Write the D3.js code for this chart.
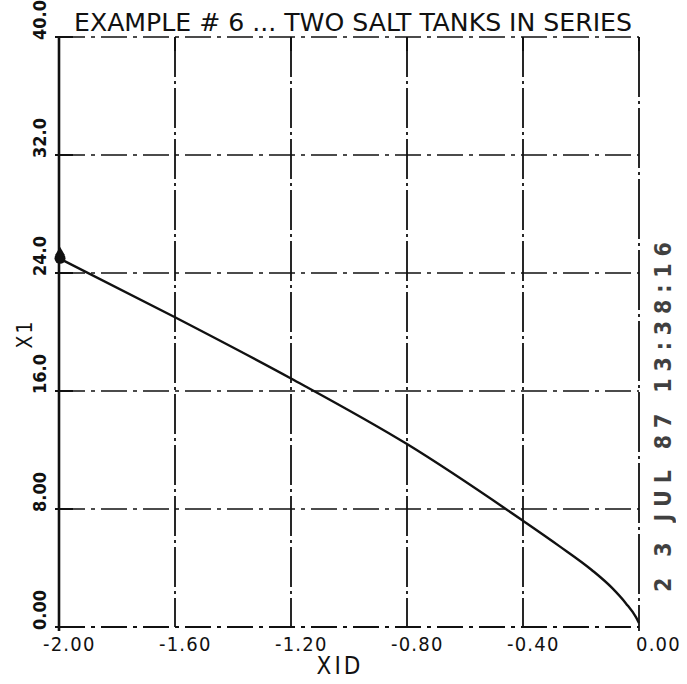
<!DOCTYPE html>
<html>
<head>
<meta charset="utf-8">
<script src="https://cdn.jsdelivr.net/npm/d3@7"></script>
<style>
  body { margin: 0; background: #fff; }
  svg { display: block; }
  text { font-family: "DejaVu Sans Condensed", "Liberation Sans Narrow", "DejaVu Sans", sans-serif; fill: #111; }
</style>
</head>
<body>
<div id="chart"></div>
<script>
// X1D (horizontal) and X1 (vertical)
const x1d = [-2.0, -1.6, -1.2, -0.8, -0.4, -0.276, -0.162, -0.093, -0.045, -0.01, 0.0];
const x1 = [25.0, 21.0, 16.85, 12.4, 7.2, 5.5, 3.85, 2.65, 1.6, 0.65, 0.27];

const xTicks = [-2.0, -1.6, -1.2, -0.8, -0.4, 0.0];
const xTickLabels = ["-2.00", "-1.60", "-1.20", "-0.80", "-0.40", "0.00"];
const yTicks = [0, 8, 16, 24, 32, 40];
const yTickLabels = ["0.00", "8.00", "16.0", "24.0", "32.0", "40.0"];

const title = "EXAMPLE # 6 ... TWO SALT TANKS IN SERIES";
const stamp = "2 3 JUL 87   13:38:16";

const W = 687, H = 684;
const margin = { top: 37, right: 48, bottom: 57, left: 59 };

const svg = d3.select("#chart").append("svg")
  .attr("width", W)
  .attr("height", H);

svg.append("rect").attr("width", W).attr("height", H).attr("fill", "#fff");

const xScale = d3.scaleLinear().domain([-2, 0]).range([margin.left, W - margin.right]);
const yScale = d3.scaleLinear().domain([0, 40]).range([H - margin.bottom, margin.top]);

// grid lines (dash-dot, plotter style)
svg.append("g")
  .selectAll("line")
  .data(yTicks.filter(d => d > 0 && d < 40))
  .enter().append("line")
  .attr("x1", xScale(-2)).attr("x2", xScale(0))
  .attr("y1", d => yScale(d)).attr("y2", d => yScale(d))
  .attr("stroke", "#111").attr("stroke-width", 1.6)
  .attr("stroke-dasharray", "26,6,4,6");

svg.append("g")
  .selectAll("line")
  .data(xTicks.filter(d => d > -2 && d < 0))
  .enter().append("line")
  .attr("x1", d => xScale(d)).attr("x2", d => xScale(d))
  .attr("y1", yScale(40)).attr("y2", yScale(0))
  .attr("stroke", "#111").attr("stroke-width", 1.8)
  .attr("stroke-dasharray", "40,4,3,4");

// frame
svg.append("line")
  .attr("x1", xScale(-2)).attr("x2", xScale(0))
  .attr("y1", yScale(40)).attr("y2", yScale(40))
  .attr("stroke", "#111").attr("stroke-width", 1.6)
  .attr("stroke-dasharray", "26,6,4,6");
svg.append("line")
  .attr("x1", xScale(-2)).attr("x2", xScale(0))
  .attr("y1", yScale(0)).attr("y2", yScale(0))
  .attr("stroke", "#111").attr("stroke-width", 1.8)
  .attr("stroke-dasharray", "26,6,4,6");
svg.append("line")
  .attr("x1", xScale(-2)).attr("x2", xScale(-2))
  .attr("y1", yScale(40)).attr("y2", yScale(0) + 4)
  .attr("stroke", "#111").attr("stroke-width", 2.6);
svg.append("line")
  .attr("x1", xScale(0)).attr("x2", xScale(0))
  .attr("y1", yScale(40)).attr("y2", yScale(0) + 4)
  .attr("stroke", "#111").attr("stroke-width", 1.8)
  .attr("stroke-dasharray", "60,4,3,4");

// tick marks on the frame
svg.append("g")
  .selectAll("line")
  .data(xTicks)
  .enter().append("line")
  .attr("x1", d => xScale(d)).attr("x2", d => xScale(d))
  .attr("y1", yScale(40)).attr("y2", yScale(40) + 14)
  .attr("stroke", "#111").attr("stroke-width", 2);
svg.append("g")
  .selectAll("line")
  .data(yTicks)
  .enter().append("line")
  .attr("x1", xScale(-2) - 4).attr("x2", xScale(-2) + 14)
  .attr("y1", d => yScale(d)).attr("y2", d => yScale(d))
  .attr("stroke", "#111").attr("stroke-width", 2);

// x tick labels
svg.append("g")
  .selectAll("text")
  .data(xTicks)
  .enter().append("text")
  .attr("x", (d, i) => xScale(d) - (xTickLabels[i][0] === "-" ? 16 : 3))
  .attr("y", yScale(0) + 24)
  .attr("font-size", 20)
  .attr("letter-spacing", 1.2)
  .text((d, i) => xTickLabels[i]);

// y tick labels (rotated)
svg.append("g")
  .selectAll("text")
  .data(yTicks)
  .enter().append("text")
  .attr("transform", d => `translate(46,${yScale(d) + 3}) rotate(-90)`)
  .attr("font-size", 18)
  .attr("font-weight", "bold")
  .text((d, i) => yTickLabels[i]);

// axis titles
svg.append("text")
  .attr("x", 340)
  .attr("y", 674)
  .attr("text-anchor", "middle")
  .attr("font-size", 24)
  .attr("letter-spacing", 3)
  .text("XID");

svg.append("text")
  .attr("transform", "translate(32,334) rotate(-90)")
  .attr("text-anchor", "middle")
  .attr("font-size", 21)
  .attr("letter-spacing", 2)
  .text("X1");

// chart title
svg.append("text")
  .attr("x", 74)
  .attr("y", 31)
  .attr("font-size", 25)
  .attr("textLength", 558)
  .attr("lengthAdjust", "spacingAndGlyphs")
  .text(title);

// date stamp on the right edge
svg.append("text")
  .attr("transform", "translate(671,592) rotate(-90)")
  .attr("font-size", 23)
  .attr("font-weight", "bold")
  .attr("textLength", 350)
  .attr("lengthAdjust", "spacing")
  .attr("opacity", 0.8)
  .text(stamp);

// the trajectory
const points = x1d.map((d, i) => ({ x: d, y: x1[i] }));
const line = d3.line()
  .x(d => xScale(d.x))
  .y(d => yScale(d.y))
  .curve(d3.curveMonotoneX);

svg.append("path")
  .datum(points)
  .attr("d", line)
  .attr("fill", "none")
  .attr("stroke", "#111")
  .attr("stroke-width", 2.4);

// start marker
const start = points[0];
svg.append("path")
  .attr("transform", `translate(${xScale(start.x) + 1},${yScale(start.y) - 6})`)
  .attr("d", d3.symbol(d3.symbolTriangle, 40)())
  .attr("fill", "#111");
svg.append("circle")
  .attr("cx", xScale(start.x) + 1)
  .attr("cy", yScale(start.y))
  .attr("r", 5.5)
  .attr("fill", "#111");
</script>
</body>
</html>
